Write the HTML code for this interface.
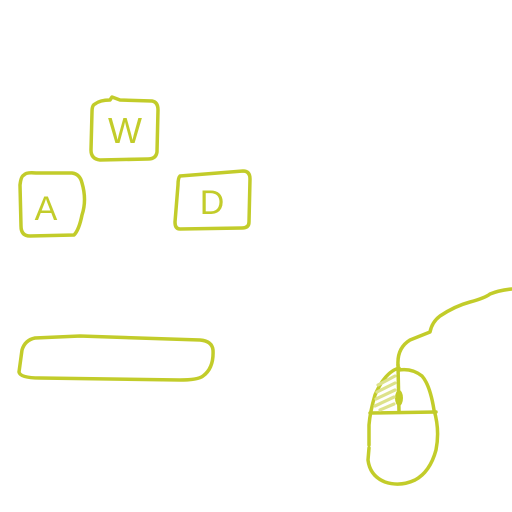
<!DOCTYPE html>
<html><head><style>
html,body{margin:0;padding:0;background:#fff;width:512px;height:512px;overflow:hidden}
svg{display:block}
text{font-family:"Liberation Sans",sans-serif;fill:#c2cc2a;}
</style></head><body>
<svg width="512" height="512" viewBox="0 0 512 512" fill="none" stroke="#c2cc2a" stroke-width="3.5" stroke-linecap="round" stroke-linejoin="round">
<path d="M95,104 Q100,100 110,100 L112,97 L120,100 L152,101 Q158,102 158,110 L157,152 Q156,159 148,159 L100,160 Q91,159 91,150 L92,112 Q92,105 95,104 Z"/>
<text x="125" y="143" font-size="36" text-anchor="middle" stroke="none">W</text>
<path d="M24,175 Q26,172 36,173 L72,173 Q80,174 82,183 Q87,200 82,215 Q79,230 74,235 L30,236 Q21,236 21,226 L20,185 Q21,176 24,175 Z"/>
<text x="46" y="220" font-size="34" text-anchor="middle" stroke="none">A</text>
<path d="M180,176 L243,171 Q250,171 250,179 L249,222 Q249,228 242,228 L180,229 Q175,229 175,222 L178,185 Q178,178 180,176 Z"/>
<text x="212" y="214" font-size="34" text-anchor="middle" stroke="none">D</text>
<path d="M35,338 L80,336 L200,340 Q212,341 213,350 Q214,368 203,376 Q198,380 180,380 L40,378 Q20,378 19,372 L22,350 Q25,340 35,338 Z"/>
<path d="M399,370 Q412,368 422,376 Q430,385 434,410 Q440,430 436,450 Q430,472 415,480 Q400,487 385,482 Q370,476 368,460 L369,448"/>
<path d="M369,445 L369,425 Q370,412 375,395 Q385,372 399,368"/>
<path d="M370,413 L436,412"/>
<path d="M398,365 L399,412"/>
<ellipse cx="399" cy="398" rx="4" ry="8" fill="#c2cc2a" stroke="none"/>
<g stroke="#dde28a" stroke-width="3.2">
<path d="M378,385 L395,376"/><path d="M377,392 L395,383"/><path d="M376,399 L395,390"/><path d="M375,406 L394,397"/><path d="M380,410 L394,404"/>
</g>
<path d="M398,365 Q397,348 410,340 L430,332 Q432,322 440,316 Q455,306 470,302 Q485,298 490,294 Q500,290 512,289"/>
</svg>
</body></html>
